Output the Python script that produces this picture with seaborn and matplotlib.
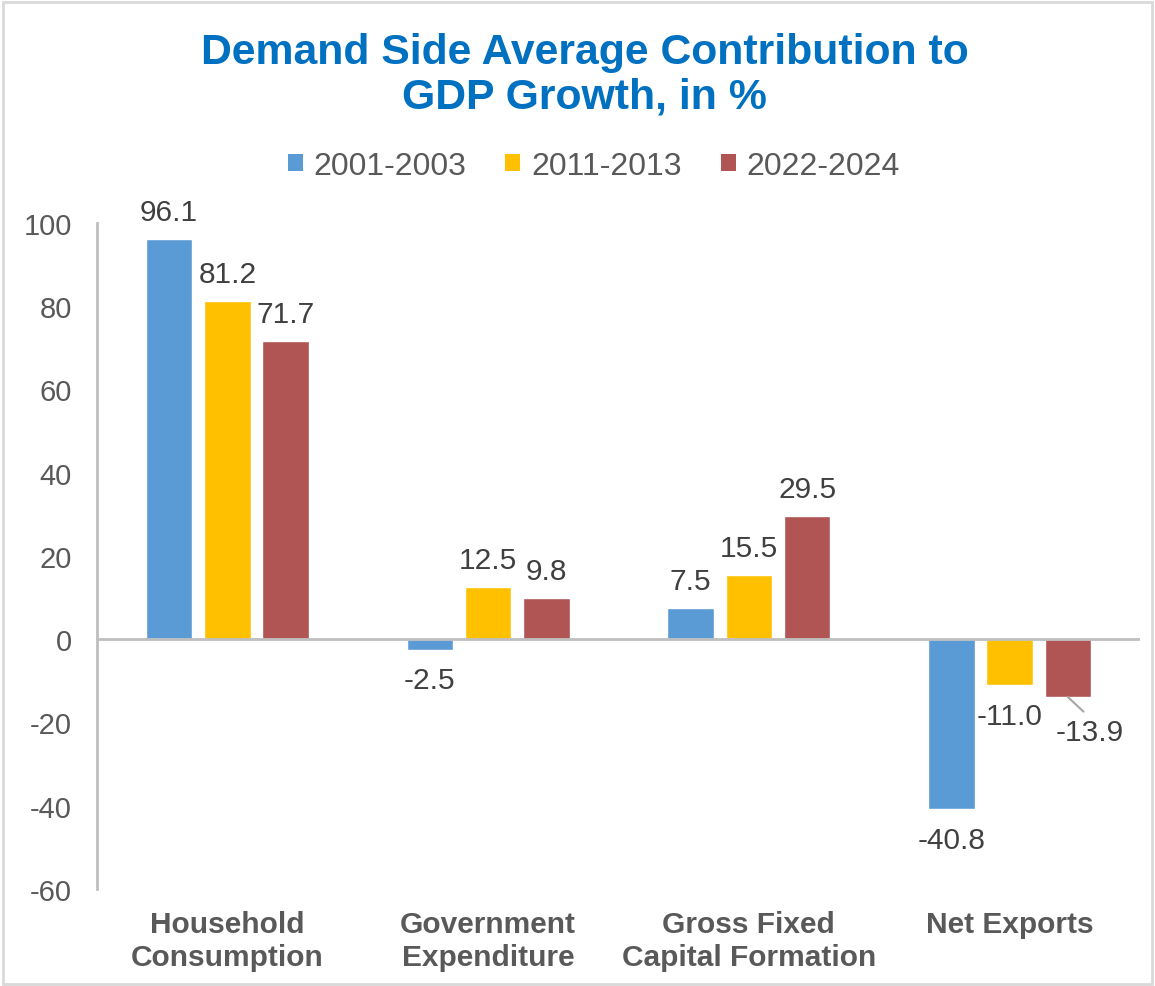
import pandas as pd
import matplotlib
matplotlib.use("Agg")
import matplotlib.pyplot as plt
from matplotlib.patches import Rectangle, Patch
import seaborn as sns

#---------------------------Data-------------------------------
categories = ["Household\nConsumption", "Government\nExpenditure",
              "Gross Fixed\nCapital Formation", "Net Exports"]
periods = ["2001-2003", "2011-2013", "2022-2024"]
v_2001_2003 = [96.1, -2.5, 7.5, -40.8]
v_2011_2013 = [81.2, 12.5, 15.5, -11.0]
v_2022_2024 = [71.7, 9.8, 29.5, -13.9]
y_ticks = [-60, -40, -20, 0, 20, 40, 60, 80, 100]

colors = ["#5B9BD5", "#FFC000", "#B05454"]
text_gray = "#595959"
label_gray = "#404040"
line_gray = "#BFBFBF"

rows = []
for period, vals in zip(periods, [v_2001_2003, v_2011_2013, v_2022_2024]):
    for cat, v in zip(categories, vals):
        rows.append({"Category": cat, "Period": period, "Value": v})
df = pd.DataFrame(rows)

#---------------------------Plot-------------------------------
sns.set_style("white")
plt.rcParams["font.family"] = ["Liberation Sans", "DejaVu Sans"]

fig = plt.figure(figsize=(11.55, 9.87), dpi=100)
ax = fig.add_axes([0.084, 0.0983, 0.903, 0.675])

sns.barplot(data=df, x="Category", y="Value", hue="Period", order=categories,
            hue_order=periods, palette=colors, width=0.67, gap=0.2,
            saturation=1, legend=False, ax=ax)

ax.set_ylim(-60, 100)
ax.set_xlim(-0.5, 3.5)
ax.set_yticks(y_ticks)
ax.set_yticklabels([str(t) for t in y_ticks], fontsize=21, color=text_gray)
ax.tick_params(axis="y", length=0, pad=18)
ax.tick_params(axis="x", length=0, pad=15)
for lab in ax.get_xticklabels():
    lab.set_fontsize(21.5)
    lab.set_fontweight("bold")
    lab.set_color(text_gray)
    lab.set_linespacing(1.25)
ax.set_xlabel("")
ax.set_ylabel("")

for s in ["top", "right", "bottom"]:
    ax.spines[s].set_visible(False)
ax.spines["left"].set_color(line_gray)
ax.spines["left"].set_linewidth(2)
ax.axhline(0, color=line_gray, lw=2, zorder=3)

# data labels
for container, vals in zip(ax.containers, [v_2001_2003, v_2011_2013, v_2022_2024]):
    for bar, v in zip(container, vals):
        x = bar.get_x() + bar.get_width() / 2
        if v == -13.9:
            ax.annotate(f"{v:.1f}", xy=(x, v), xytext=(16, -25),
                        textcoords="offset points", ha="center", va="center",
                        fontsize=21.5, color=label_gray, annotation_clip=False,
                        arrowprops=dict(arrowstyle="-", color="#A6A6A6", lw=1.5,
                                        shrinkA=3, shrinkB=0, relpos=(0.5, 1)))
        elif v >= 0:
            ax.annotate(f"{v:.1f}", xy=(x, v), xytext=(0, 19.5),
                        textcoords="offset points", ha="center", va="center",
                        fontsize=21.5, color=label_gray, annotation_clip=False)
        else:
            ax.annotate(f"{v:.1f}", xy=(x, v), xytext=(0, -22),
                        textcoords="offset points", ha="center", va="center",
                        fontsize=21.5, color=label_gray, annotation_clip=False)

# title
fig.text(0.506, 0.924, "Demand Side Average Contribution to\nGDP Growth, in %",
         ha="center", va="center", fontsize=30.8, fontweight="bold",
         color="#0070C0", linespacing=1.15)

# legend
handles = [Patch(facecolor=c, edgecolor="none", label=p) for c, p in zip(colors, periods)]
fig.legend(handles=handles, loc="center", bbox_to_anchor=(0.514, 0.831), ncol=3,
           frameon=False, fontsize=23, labelcolor=text_gray, handlelength=0.47,
           handleheight=0.47, handletextpad=0.34, columnspacing=1.22)

# figure border
fig.patches.append(Rectangle((0.003, 0.002), 0.994, 0.995, transform=fig.transFigure,
                             fill=False, edgecolor="#D9D9D9", lw=2))

fig.savefig("out.png", dpi=100)
